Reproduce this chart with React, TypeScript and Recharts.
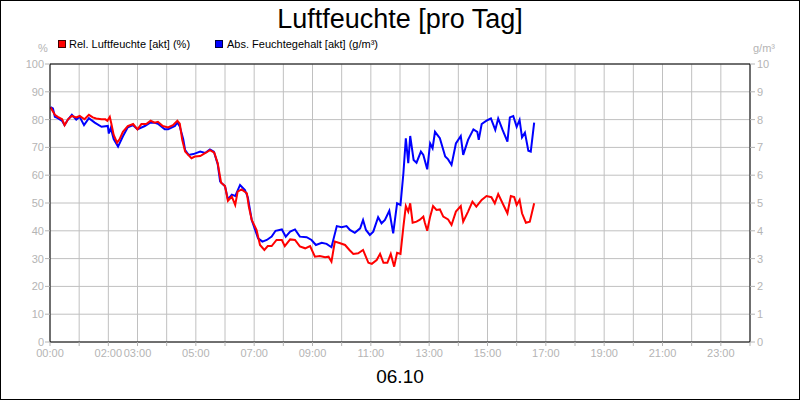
import React from "react";
import { LineChart, Line, XAxis, YAxis, CartesianGrid, ReferenceLine } from "recharts";

// minutes since midnight / relative humidity (%)
const redTimes = [
  1, 10, 16, 25, 30, 37, 45, 54, 61, 71,
  80, 88, 95, 106, 114, 118, 123, 126, 131, 138,
  143, 150, 160, 171, 180, 188, 198, 207, 215, 222,
  232, 243, 253, 262, 267, 272, 278, 291, 298, 309,
  319, 329, 338, 345, 352, 360, 366, 374, 381, 386,
  394, 405, 409, 415, 425, 432, 441, 448, 456, 466,
  477, 483, 494, 504, 514, 525, 535, 545, 555, 566,
  573, 579, 586, 597, 607, 616, 624, 634, 644, 655,
  662, 672, 679, 686, 694, 701, 708, 714, 721, 727,
  732, 737, 741, 746, 754, 761, 768, 771, 776, 782,
  788, 795, 802, 809, 819, 826, 835, 845, 850, 860,
  869, 877, 888, 898, 908, 915, 922, 931, 941, 948,
  955, 960, 966, 971, 979, 987, 996,
];
const redValues = [
  84.4, 81.7, 81, 80.1, 78, 80.1, 81.3, 80.8, 81.3, 80.1,
  81.7, 80.8, 80.4, 80.1, 80.1, 79.6, 81, 78.7, 74.5, 71.7,
  72.9, 75.6, 77.7, 78.4, 76.5, 78.4, 78.4, 79.6, 78.9, 79.2,
  77.7, 77.2, 78, 79.6, 78.5, 72.7, 68.5, 66.1, 66.7, 66.9,
  67.9, 69, 68.1, 64.3, 57.3, 56.1, 50.8, 52.3, 49.3, 54.1,
  54.9, 53.5, 48.7, 43.9, 40.3, 34.9, 33.1, 34.5, 34.5, 36.7,
  36.7, 34.5, 36.9, 36.7, 34.4, 33.7, 34.5, 30.7, 30.9, 30.5,
  30.7, 28.9, 36.1, 35.5, 34.9, 33.1, 31.7, 31.9, 33.1, 28.5,
  28.1, 29.5, 31.7, 28.5, 28.5, 31.7, 27.1, 32.1, 31.7, 41.5,
  48.9, 46.9, 49.9, 42.9, 43.3, 44, 45.1, 43, 40, 45.1,
  48.9, 47.5, 47.7, 45.1, 44.1, 42.1, 46.9, 48.9, 43.3, 46.9,
  50.5, 48.7, 51.1, 52.5, 52.1, 49.9, 53.2, 49.9, 46.3, 52.5,
  52.1, 49.3, 51.1, 46.3, 42.9, 43.3, 49.9,
];

// minutes since midnight / absolute humidity (g/m³)
const blueTimes = [
  1, 6, 10, 16, 25, 30, 37, 45, 54, 61,
  70, 80, 92, 106, 119, 121, 125, 131, 140, 150,
  160, 171, 180, 195, 207, 214, 222, 236, 243, 257,
  262, 267, 274, 278, 285, 295, 309, 319, 329, 337,
  345, 350, 360, 366, 374, 381, 391, 401, 407, 415,
  428, 437, 446, 456, 464, 477, 485, 494, 504, 514,
  528, 538, 547, 559, 569, 579, 590, 600, 610, 617,
  627, 638, 644, 650, 658, 665, 675, 682, 689, 698,
  706, 714, 721, 727, 732, 737, 741, 748, 754, 763,
  768, 776, 782, 787, 792, 802, 813, 819, 826, 835,
  845, 850, 860, 871, 879, 882, 888, 898, 907, 916,
  922, 931, 941, 946, 953, 960, 966, 971, 977, 984,
  989, 996,
];
const blueValues = [
  8.45, 8.4, 8.1, 8.05, 7.95, 7.8, 8.0, 8.17, 8.0, 8.1,
  7.8, 8.05, 7.89, 7.74, 7.77, 7.5, 7.7, 7.3, 7.03, 7.4,
  7.72, 7.8, 7.65, 7.77, 7.9, 7.89, 7.85, 7.65, 7.65, 7.77,
  7.9, 7.75, 7.3, 6.9, 6.73, 6.76, 6.85, 6.8, 6.93, 6.85,
  6.4, 5.77, 5.6, 5.13, 5.3, 5.25, 5.65, 5.47, 5.2, 4.39,
  3.73, 3.61, 3.67, 3.79, 4.0, 4.05, 3.79, 3.97, 4.05, 3.79,
  3.77, 3.67, 3.49, 3.57, 3.53, 3.41, 4.17, 4.13, 4.17, 4.03,
  3.93, 4.09, 4.39, 4.03, 3.85, 3.97, 4.49, 4.27, 4.39, 4.72,
  3.91, 4.99, 4.93, 6.07, 7.33, 6.43, 7.41, 6.55, 6.45, 6.85,
  6.73, 6.21, 7.14, 6.97, 7.56, 7.33, 6.67, 6.57, 6.37, 7.14,
  7.41, 6.73, 7.27, 7.65, 7.56, 7.27, 7.84, 7.96, 8.04, 7.63,
  8.04, 7.63, 7.21, 8.08, 8.13, 7.74, 7.99, 7.36, 7.53, 6.88,
  6.85, 7.89,
];

const hourTicks = [0, 1, 2, 3, 4, 5, 6, 7, 8, 9, 10, 11, 12, 13, 14, 15, 16, 17, 18, 19, 20, 21, 22, 23, 24];
const labeledHours = [0, 2, 3, 5, 7, 9, 11, 13, 15, 17, 19, 21, 23];
const leftTicks = [0, 10, 20, 30, 40, 50, 60, 70, 80, 90, 100];
const rightTicks = [0, 1, 2, 3, 4, 5, 6, 7, 8, 9, 10];

const title = "Luftfeuchte [pro Tag]";
const dateLabel = "06.10";
const redName = "Rel. Luftfeuchte [akt] (%)";
const blueName = "Abs. Feuchtegehalt [akt] (g/m³)";

const redData = redTimes.map((t, i) => ({ t, v: redValues[i] }));
const blueData = blueTimes.map((t, i) => ({ t, v: blueValues[i] }));

const FONT = "'Liberation Sans', Arial, sans-serif";
const GRAY = "#b4b4b4";

const fmtHour = (m: number) => {
  const h = Math.round(m / 60);
  if (!labeledHours.includes(h)) return "";
  return (h < 10 ? "0" : "") + h + ":00";
};

export default function App() {
  const tickStyle = { fill: GRAY, fontSize: 11, fontFamily: FONT };
  return (
    <div style={{ position: "fixed", left: 0, top: 0, width: 800, height: 400, background: "#fff" }}>
      <LineChart
        width={800}
        height={400}
        margin={{ top: 64, right: 0, bottom: 38, left: 0 }}
      >
        <CartesianGrid yAxisId="left" stroke="#c0c0c0" strokeWidth={1} verticalPoints={undefined} />
        <XAxis
          type="number"
          dataKey="t"
          domain={[0, 1440]}
          ticks={hourTicks.map((h) => h * 60)}
          interval={0}
          tickFormatter={fmtHour}
          height={20}
          tickSize={4}
          tickMargin={3}
          tick={tickStyle}
          axisLine={{ stroke: "#000" }}
          tickLine={{ stroke: GRAY }}
          allowDataOverflow
        />
        <YAxis
          yAxisId="left"
          orientation="left"
          width={50}
          domain={[0, 100]}
          ticks={leftTicks}
          interval={0}
          tickSize={5}
          tickMargin={1}
          tick={tickStyle}
          axisLine={{ stroke: "#000" }}
          tickLine={{ stroke: GRAY }}
        />
        <YAxis
          yAxisId="right"
          orientation="right"
          width={50}
          domain={[0, 10]}
          ticks={rightTicks}
          interval={0}
          tickSize={5}
          tickMargin={2}
          tick={tickStyle}
          axisLine={{ stroke: "#000" }}
          tickLine={{ stroke: GRAY }}
        />
        <ReferenceLine yAxisId="left" y={100} stroke="#000" strokeWidth={1} />
        <Line
          yAxisId="right"
          data={blueData}
          dataKey="v"
          type="linear"
          stroke="#0000ff"
          strokeWidth={2}
          dot={false}
          isAnimationActive={false}
        />
        <Line
          yAxisId="left"
          data={redData}
          dataKey="v"
          type="linear"
          stroke="#ff0000"
          strokeWidth={2}
          dot={false}
          isAnimationActive={false}
        />
      </LineChart>
      <svg
        width={800}
        height={400}
        style={{ position: "absolute", left: 0, top: 0, pointerEvents: "none" }}
      >
        <rect x={0.5} y={0.5} width={799} height={399} fill="none" stroke="#000" strokeWidth={1} />
        <text x={400} y={27.5} textAnchor="middle" fontFamily={FONT} fontSize={27} fill="#000">
          {title}
        </text>
        <text x={400} y={383} textAnchor="middle" fontFamily={FONT} fontSize={19} fill="#000">
          {dateLabel}
        </text>
        <text x={43} y={52} textAnchor="middle" fontFamily={FONT} fontSize={11} fill={GRAY}>
          %
        </text>
        <text x={753} y={52} textAnchor="start" fontFamily={FONT} fontSize={11} fill={GRAY}>
          g/m³
        </text>
        <rect x={58.5} y={40.5} width={7} height={7} fill="#ff0000" stroke="#400000" strokeWidth={1} />
        <text x={69} y={48} fontFamily={FONT} fontSize={11} fill="#000">
          {redName}
        </text>
        <rect x={215.5} y={40.5} width={7} height={7} fill="#0000ff" stroke="#000040" strokeWidth={1} />
        <text x={227} y={48} fontFamily={FONT} fontSize={11} fill="#000">
          {blueName}
        </text>
      </svg>
    </div>
  );
}
